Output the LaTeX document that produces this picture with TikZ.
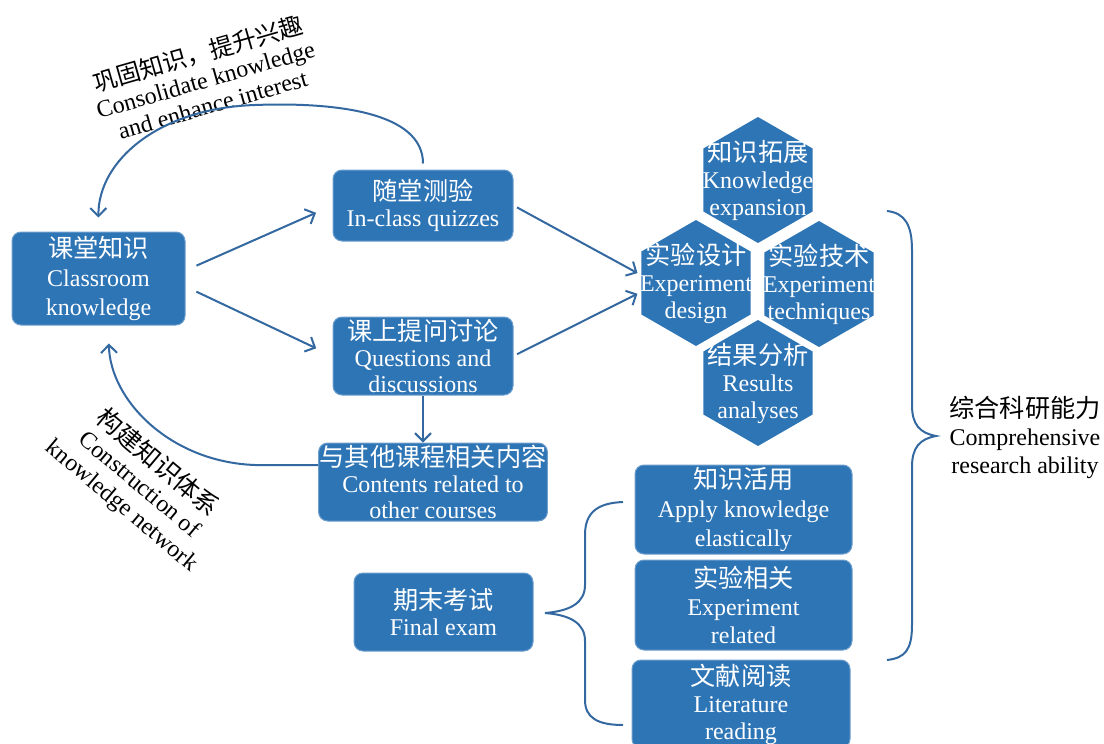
\documentclass[tikz,border=0pt]{standalone}
\usepackage{fontspec}
\setmainfont{Liberation Serif}
\newfontfamily\cjk[Scale=1.05]{Noto Sans CJK SC}
\usetikzlibrary{shapes.geometric, arrows.meta, calc}
\definecolor{boxblue}{RGB}{46,117,182}
\definecolor{lineblue}{RGB}{52,104,160}

\begin{document}
\begin{tikzpicture}[x=0.5pt, y=-0.5pt]

\tikzset{
  caja/.style={rectangle, rounded corners=4.5pt,
    fill=boxblue, draw=boxblue!70!white, line width=0.5pt,
    text=white, align=center, inner sep=0.5pt,
    font=\fontsize{12}{13}\selectfont},
  hexa/.style={regular polygon, regular polygon sides=6,
    shape border rotate=30, minimum size=63pt,
    inner sep=0pt, fill=boxblue},
  hextxt/.style={text=white, align=center,
    font=\fontsize{12}{13.5}\selectfont},
  etiqueta/.style={align=center, font=\fontsize{12}{13.5}\selectfont},
  arrow/.style={-{Straight Barb[length=4pt,width=8pt]},
    line width=1pt, draw=lineblue},
  llave/.style={line width=1pt, draw=lineblue}
}

\useasboundingbox (0,0) rectangle (1104,744);

% ---- LEFT BOXES ----
\node (clase)  [caja, minimum width=86.5pt, minimum height=46.5pt,
  font=\fontsize{12}{14.5}\selectfont] at (98.5,278.5)
  {{\cjk 课堂知识}\\Classroom\\knowledge};
\node (quiz)   [caja, minimum width=90pt, minimum height=35.5pt] at (423,205.5)
  {{\cjk 随堂测验}\\In-class quizzes};
\node (preg)   [caja, minimum width=90pt, minimum height=39pt] at (423,356)
  {{\cjk 课上提问讨论}\\Questions and\\discussions};
\node (otros)  [caja, minimum width=113pt, minimum height=39pt] at (433,482)
  {{\cjk 与其他课程相关内容}\\Contents related to\\other courses};
\node (examen) [caja, minimum width=89.5pt, minimum height=39pt] at (443.5,612)
  {{\cjk 期末考试}\\Final exam};

% ---- EXAM BOXES (right) ----
\node (aplica)  [caja, minimum width=108.5pt, minimum height=44.5pt,
  font=\fontsize{12}{14.5}\selectfont] at (743.5,509.5)
  {{\cjk 知识活用}\\Apply knowledge\\elastically};
\node (exprel)  [caja, minimum width=108.5pt, minimum height=45pt,
  font=\fontsize{12}{14}\selectfont] at (743.5,605)
  {{\cjk 实验相关}\\Experiment\\related};
\node (lectura) [caja, minimum width=109pt, minimum height=44pt,
  font=\fontsize{12}{13.5}\selectfont] at (741,704)
  {{\cjk 文献阅读}\\Literature\\reading};

% ---- HEXAGONS ----
\node (hexk) [hexa] at (758,180) {};
\node (hexd) [hexa] at (696,283) {};
\node (hext) [hexa] at (819,284) {};
\node (hexr) [hexa] at (758,383) {};
\node [hextxt] at (hexk) {{\cjk 知识拓展}\\Knowledge\\expansion};
\node [hextxt] at (hexd) {{\cjk 实验设计}\\Experiment\\design};
\node [hextxt] at (hext) {{\cjk 实验技术}\\Experiment\\techniques};
\node [hextxt] at (hexr) {{\cjk 结果分析}\\Results\\analyses};

% ---- LABELS ----
\node (consol) [etiqueta, rotate=16, font=\fontsize{12}{13}\selectfont] at (205,78)
  {{\cjk\fontsize{11.5}{13}\selectfont 巩固知识，提升兴趣}\\Consolidate knowledge\\and enhance interest};
\node (constr) [etiqueta, rotate=-40] at (140,484)
  {{\cjk 构建知识体系}\\Construction of\\knowledge network};
\node (capac)  [etiqueta, font=\fontsize{12}{14}\selectfont] at (1025,437)
  {{\cjk 综合科研能力}\\Comprehensive\\research ability};

% ---- ARROWS ----
\draw[arrow, shorten <=6pt, shorten >=9pt] ([yshift=4pt]clase.east) -- (quiz.west);
\draw[arrow, shorten <=6pt, shorten >=9pt] ([yshift=-4pt]clase.east) -- (preg.west);
\draw[arrow, shorten <=2pt, shorten >=2pt] (quiz.east) -- ([yshift=4pt]hexd.west);
\draw[arrow, shorten <=2pt, shorten >=2pt] (preg.east) -- ([yshift=-4.5pt]hexd.west);
\draw[arrow] (preg.south) -- (preg.south |- otros.north);

% ---- CURVED ARROWS ----
\draw[arrow, shorten <=3pt, shorten >=7pt] (quiz.north)
  .. controls (423,112) and (335,102) .. (255,105)
  .. controls (160,108) and (98,160) .. (clase.north);
\draw[arrow, shorten >=9pt] ([yshift=8.5pt]otros.west) -- (255,465)
  .. controls (170,462) and (110,400) .. ([xshift=5pt]clase.south);

% ---- BRACES ----
\draw[llave] (887,211) .. controls (905,213) and (912,225) .. (912,250)
  -- (912,405) .. controls (912,425) and (920,433) .. (936,436)
  .. controls (920,439) and (912,447) .. (912,467)
  -- (912,625) .. controls (912,650) and (905,658) .. (887,660);
\draw[llave] (623,502) .. controls (598,503) and (585,512) .. (585,535)
  -- (585,585) .. controls (585,603) and (570,611) .. (545,613)
  .. controls (570,615) and (585,623) .. (585,641)
  -- (585,700) .. controls (585,718) and (598,725) .. (623,725);

\end{tikzpicture}
\end{document}
